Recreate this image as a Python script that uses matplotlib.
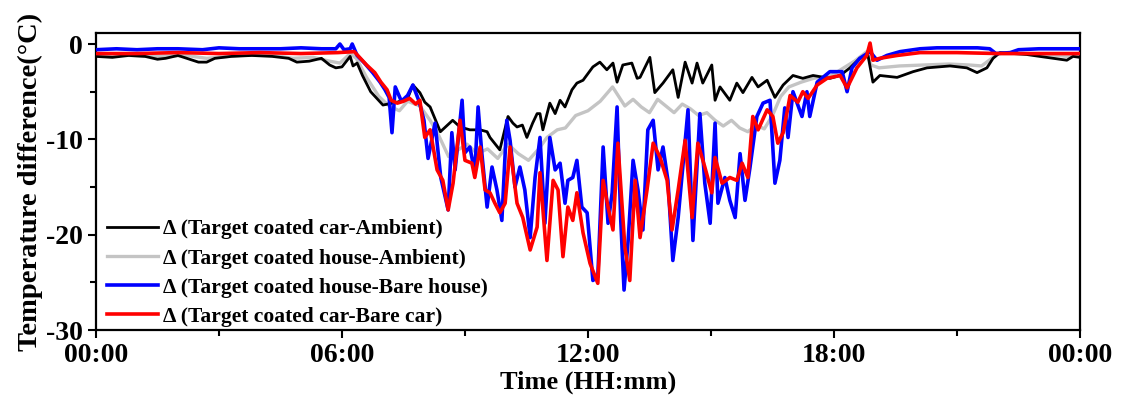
import matplotlib
matplotlib.use("Agg")
import matplotlib.pyplot as plt
from matplotlib.ticker import MultipleLocator

plt.rcParams['font.family'] = ['Liberation Serif', 'DejaVu Serif']
plt.rcParams['font.weight'] = 'bold'
plt.rcParams['axes.unicode_minus'] = False

# hours since midnight, temperature differences in degC
black_t = [0, 0.4, 0.8, 1.2, 1.5, 1.7, 2.0, 2.5, 2.7, 2.9, 3.3, 3.8, 4.3, 4.7, 4.9, 5.2, 5.5, 5.7,
           5.85, 6.0, 6.2, 6.27, 6.37, 6.5, 6.7, 7.0, 7.35, 7.6, 7.73, 7.9, 8.02, 8.15, 8.4, 8.7,
           8.88, 9.12, 9.37, 9.54, 9.61, 9.85, 10.05, 10.17, 10.27, 10.4, 10.51, 10.65, 10.76, 10.83,
           10.9, 11.07, 11.2, 11.32, 11.44, 11.61, 11.73, 11.88, 12.12, 12.29, 12.46, 12.61, 12.71,
           12.85, 13.07, 13.2, 13.27, 13.51, 13.63, 13.83, 14.07, 14.2, 14.37, 14.54, 14.66, 14.8,
           15.02, 15.1, 15.22, 15.46, 15.63, 15.78, 16.0, 16.15, 16.37, 16.56, 16.76, 17.0, 17.24,
           17.49, 17.9, 18.15, 18.39, 18.63, 18.83, 18.95, 19.12, 19.54, 19.93, 20.27, 20.83, 21.24,
           21.49, 21.73, 21.88, 22.05, 22.7, 23.02, 23.68, 23.83, 24.0]
black_v = [-1.3, -1.4, -1.2, -1.3, -1.6, -1.5, -1.2, -1.9, -1.9, -1.5, -1.3, -1.2, -1.3, -1.5, -1.9,
           -1.8, -1.5, -2.2, -2.5, -2.4, -1.3, -2.3, -2.0, -3.3, -5.0, -6.4, -6.1, -5.7, -4.3, -5.1,
           -6.1, -6.6, -9.2, -8.0, -8.7, -9.0, -9.0, -9.2, -9.8, -11.1, -7.6, -8.3, -8.7, -8.5, -9.8,
           -8.3, -7.3, -7.3, -9.0, -6.2, -7.3, -5.9, -6.6, -4.8, -4.1, -3.8, -2.4, -1.9, -2.7, -2.0,
           -4.0, -2.2, -2.0, -3.6, -3.5, -1.4, -5.1, -4.1, -2.7, -5.6, -1.9, -4.1, -2.0, -4.1, -2.2,
           -5.9, -4.5, -5.9, -4.1, -5.1, -3.5, -4.5, -3.8, -5.6, -4.3, -3.3, -3.6, -3.3, -3.6, -3.3,
           -2.5, -1.5, -1.2, -4.0, -3.3, -3.5, -2.9, -2.5, -2.3, -2.5, -3.0, -2.5, -1.5, -0.9, -1.1,
           -1.3, -1.7, -1.3, -1.4]

gray_t = [0, 0.8, 1.5, 2.2, 2.7, 3.5, 4.2, 4.8, 5.3, 5.7, 5.95, 6.2, 6.35, 6.6, 6.9, 7.15, 7.4, 7.6,
          7.9, 8.15, 8.35, 8.6, 8.8, 9.05, 9.3, 9.55, 9.8, 10.05, 10.3, 10.55, 10.8, 11.0, 11.25,
          11.45, 11.7, 12.0, 12.3, 12.6, 12.9, 13.1, 13.3, 13.5, 13.7, 13.9, 14.1, 14.3, 14.5, 14.7,
          14.9, 15.1, 15.3, 15.5, 15.7, 15.9, 16.1, 16.3, 16.5, 16.7, 16.9, 17.2, 17.5, 17.9, 18.2,
          18.5, 18.8, 18.9, 19.1, 19.6, 20.2, 20.8, 21.3, 21.6, 21.85, 22.0, 22.6, 23.2, 23.7, 24.0]
gray_v = [-1.1, -1.2, -1.3, -1.2, -1.5, -1.2, -1.1, -1.5, -1.4, -1.8, -2.0, -1.0, -1.5, -3.5, -5.5,
          -6.5, -7.0, -6.0, -6.5, -8.0, -9.5, -11.8, -11.2, -10.5, -11.5, -11.0, -12.0, -10.5, -11.5,
          -12.2, -11.0, -9.8, -9.0, -8.8, -7.5, -7.0, -6.0, -4.5, -6.5, -5.8, -6.6, -7.2, -5.8, -6.5,
          -7.2, -6.3, -6.8, -7.5, -7.2, -8.0, -8.6, -8.0, -8.8, -9.2, -8.5, -8.9, -7.5, -5.5, -4.5,
          -4.0, -3.6, -3.4, -2.6, -1.8, -0.8, -2.2, -2.5, -2.3, -2.2, -2.1, -2.2, -2.3, -1.5, -1.0,
          -1.0, -1.1, -1.3, -1.1]

blue_t = [0, 0.5, 1.0, 1.5, 2.0, 2.6, 3.0, 3.5, 4.0, 4.5, 5.0, 5.5, 5.85, 5.95, 6.05, 6.2, 6.25,
          6.37, 6.55, 6.75, 6.93, 7.05, 7.15, 7.22, 7.3, 7.45, 7.6, 7.73, 7.88,
          8.0, 8.1, 8.27, 8.41, 8.59, 8.68, 8.76, 8.93, 9.0, 9.12, 9.24, 9.32, 9.41, 9.54, 9.66,
          9.78, 9.9, 10.02, 10.1, 10.22, 10.34, 10.46, 10.59, 10.71, 10.83, 10.95, 11.07, 11.2,
          11.32, 11.44, 11.51, 11.63, 11.73, 11.85, 11.98, 12.12, 12.24, 12.37, 12.49, 12.59, 12.71,
          12.8, 12.88, 12.98, 13.1, 13.22, 13.34, 13.46, 13.59, 13.71, 13.83, 13.95,
          14.07, 14.2, 14.44, 14.56, 14.73, 14.85, 14.98, 15.1, 15.17, 15.34, 15.46, 15.59, 15.71,
          15.83, 15.95, 16.12, 16.27, 16.44, 16.56, 16.68, 16.8, 16.88, 17.0, 17.22, 17.34, 17.41,
          17.59, 17.9, 18.2, 18.32, 18.44, 18.63, 18.88, 19.05, 19.29, 19.61, 20.1, 20.51, 21.0,
          21.5, 21.8, 21.95, 22.3, 22.5, 23.0, 23.5, 24.0]
blue_v = [-0.6, -0.5, -0.6, -0.5, -0.5, -0.6, -0.4, -0.5, -0.5, -0.5, -0.4, -0.5, -0.5, 0.0, -0.6,
          -0.5, 0.0, -1.2, -2.0, -3.0, -4.0, -4.8, -5.6, -9.3, -4.5, -6.0, -5.4, -4.3, -6.0,
          -8.0, -12.0, -8.3, -14.0, -17.4, -9.3, -13.2, -5.9, -11.4, -10.8, -13.5, -6.6, -11.4,
          -17.1, -12.9, -15.3, -18.5, -8.0, -10.1, -15.0, -12.9, -15.3, -20.3, -14.0, -9.8, -18.8,
          -9.8, -13.2, -12.5, -16.7, -14.3, -14.0, -12.2, -17.1, -17.7, -24.8, -24.4, -10.8, -18.8,
          -15.6, -6.6, -18.5, -25.8, -20.6, -12.2, -15.3, -19.5, -9.0, -8.0, -13.2, -10.8, -14.3,
          -22.7, -18.2, -6.9, -20.6, -7.3, -14.6, -18.8, -8.3, -16.7, -14.0, -16.4, -18.2, -11.5,
          -16.4, -13.0, -7.6, -6.2, -5.9, -14.6, -12.2, -6.7, -9.8, -5.0, -7.6, -5.0, -7.6, -4.0,
          -2.9, -2.9, -5.0, -2.5, -1.5, -0.8, -1.7, -1.2, -0.8, -0.5, -0.4, -0.4, -0.4, -0.5, -1.0,
          -0.9, -0.6, -0.5, -0.5, -0.5]

red_t = [0, 1.0, 2.0, 3.0, 4.0, 5.0, 5.9, 6.3, 6.45, 6.6, 6.8, 6.95, 7.1, 7.2, 7.35, 7.5, 7.65, 7.8,
         7.9, 8.02, 8.15, 8.32, 8.46, 8.59, 8.71, 8.88, 9.0, 9.17, 9.24, 9.37, 9.49, 9.61, 9.73,
         9.85, 9.98, 10.1, 10.27, 10.41, 10.59, 10.76, 10.83, 11.0, 11.15, 11.27, 11.39, 11.51,
         11.63, 11.73, 11.88, 12.05, 12.24, 12.37, 12.49, 12.61, 12.73, 12.9, 13.02, 13.15, 13.27,
         13.44, 13.59, 13.76, 13.93,
         14.05, 14.2, 14.37, 14.54, 14.68, 14.85, 15.02, 15.1, 15.27, 15.46, 15.63, 15.76, 15.9,
         16.02, 16.15, 16.37, 16.51, 16.63, 16.76, 16.88, 16.93, 17.12, 17.24, 17.37, 17.59, 17.83,
         18.15, 18.32, 18.56, 18.8, 18.88, 18.95, 19.12, 19.54, 20.1, 21.0, 22.0, 23.0, 24.0]
red_v = [-1.0, -1.0, -0.9, -1.0, -0.9, -1.0, -0.9, -0.8, -1.5, -2.2, -3.0, -4.0, -4.8, -5.9, -6.2,
         -6.0, -5.7, -6.3,
         -5.9, -9.8, -9.0, -13.2, -14.3, -17.4, -14.6, -8.0, -12.2, -12.5, -14.0, -10.8, -15.3,
         -15.6, -16.7, -17.7, -16.7, -10.8, -16.7, -18.2, -21.6, -19.2, -13.5, -22.7, -14.3, -15.3,
         -22.3, -17.1, -18.5, -15.6, -19.8, -23.0, -25.1, -14.3, -17.1, -19.5, -10.4, -21.3, -24.8,
         -14.3, -20.3, -15.3, -10.4, -11.9, -14.3,
         -19.5, -15.3, -10.1, -18.2, -10.4, -12.9, -15.6, -11.9, -14.6, -14.0, -14.3, -12.5, -14.0,
         -7.6, -9.0, -6.9, -7.6, -10.4, -9.3, -6.6, -5.4, -6.1, -5.0, -5.7, -4.3, -3.6, -3.3, -4.6,
         -2.5, -1.2, 0.1, -1.7, -1.5, -1.2, -0.9, -0.9, -1.0, -1.0, -1.0]

labels = [u'\u0394 (Target coated car-Ambient)',
          u'\u0394 (Target coated house-Ambient)',
          u'\u0394 (Target coated house-Bare house)',
          u'\u0394 (Target coated car-Bare car)']
xtick_pos = [0, 6, 12, 18, 24]
xtick_txt = ['00:00', '06:00', '12:00', '18:00', '00:00']

fig = plt.figure(figsize=(11.21, 4.08), dpi=100)
ax = fig.add_axes([0.0856, 0.191, 0.8778, 0.728])

ax.plot(black_t, black_v, color='black', lw=2.0, label=labels[0], zorder=3)
ax.plot(gray_t, gray_v, color='#c4c4c4', lw=2.4, label=labels[1], zorder=2)
ax.plot(blue_t, blue_v, color='#0000ff', lw=2.6, label=labels[2], zorder=4)
ax.plot(red_t, red_v, color='#ff0000', lw=2.6, label=labels[3], zorder=5)

ax.set_xlim(0, 24)
ax.set_ylim(-30, 1.15)
ax.set_xticks(xtick_pos)
ax.set_xticklabels(xtick_txt)
ax.xaxis.set_minor_locator(MultipleLocator(3))
ax.set_yticks([0, -10, -20, -30])
ax.yaxis.set_minor_locator(MultipleLocator(5))
ax.tick_params(which='major', direction='out', length=6, width=1.5, labelsize=20)
ax.tick_params(which='minor', direction='out', length=4, width=1.5)
for s in ax.spines.values():
    s.set_linewidth(1.6)

ax.set_xlabel('Time (HH:mm)', fontsize=19, fontweight='bold', labelpad=2)
ax.set_ylabel(u'Temperature difference(\u00b0C)', fontsize=20.5, fontweight='bold', labelpad=2)

ax.legend(loc='lower left', frameon=False, fontsize=15.5, handlelength=2.4,
          handletextpad=0.2, labelspacing=0.42, borderaxespad=0.1,
          bbox_to_anchor=(0.0, -0.025))

fig.savefig('out.png', dpi=100)
